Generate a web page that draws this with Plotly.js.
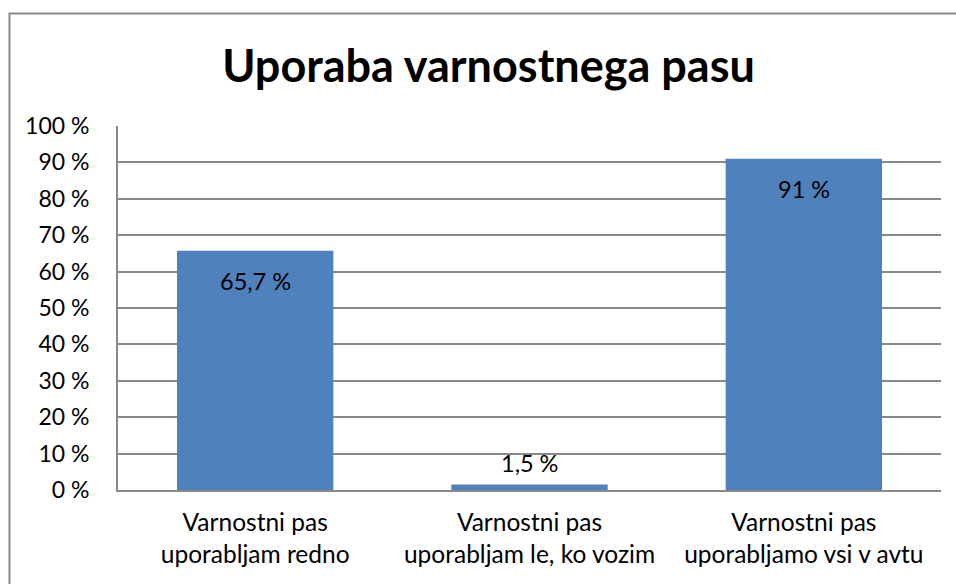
<!DOCTYPE html>
<html>
<head>
<meta charset="utf-8">
<script src="https://cdn.plot.ly/plotly-3.0.1.min.js"></script>
<style>html,body{margin:0;padding:0;background:#fff;}#chart{width:956px;height:584px;}</style>
</head>
<body>
<div id="chart"></div>
<script>
const categories = ["Varnostni pas<br>uporabljam redno", "Varnostni pas<br>uporabljam le, ko vozim", "Varnostni pas<br>uporabljamo vsi v avtu"];
const values = [65.7, 1.5, 91];
const labels = ["65,7 %", "1,5 %", "91 %"];
const labelInside = [true, false, true];
const tickVals = [0, 10, 20, 30, 40, 50, 60, 70, 80, 90, 100];
const tickText = ["0 %", "10 %", "20 %", "30 %", "40 %", "50 %", "60 %", "70 %", "80 %", "90 %", "100 %"];

const FONT = "Lato, 'Liberation Sans', Arial, sans-serif";
const GRID = "#898989";

const trace = {
  type: "bar",
  x: categories,
  y: values,
  marker: {color: "#4F81BD"},
  hoverinfo: "none"
};

const annotations = categories.map((c, i) => ({
  x: c, y: values[i], xref: "x", yref: "y",
  text: labels[i], showarrow: false,
  yanchor: labelInside[i] ? "top" : "bottom",
  yshift: labelInside[i] ? -14 : 6,
  font: {family: FONT, size: 23.5, color: "#000"}
}));

const layout = {
  width: 956, height: 584,
  margin: {l: 118, r: 15, t: 126, b: 94},
  paper_bgcolor: "#fff", plot_bgcolor: "#fff",
  separators: ", ",
  title: {text: "<b>Uporaba varnostnega pasu</b>", font: {family: FONT, size: 45, color: "#000"},
          x: 0.511, xanchor: "center", y: 0.887, yanchor: "middle"},
  bargap: 0.43,
  showlegend: false,
  xaxis: {
    type: "category",
    showline: true, linecolor: GRID, linewidth: 2,
    showgrid: false, ticks: "",
    tickfont: {family: FONT, size: 24.5, color: "#000"},
    ticklabelstandoff: 10
  },
  yaxis: {
    range: [0, 100],
    tickvals: tickVals, ticktext: tickText,
    showline: true, linecolor: GRID, linewidth: 2,
    showgrid: true, gridcolor: GRID, gridwidth: 2,
    zeroline: false, ticks: "",
    tickfont: {family: FONT, size: 23, color: "#000"},
    ticklabelstandoff: 22
  },
  annotations: annotations,
  shapes: [{
    type: "rect", xref: "paper", yref: "paper",
    x0: (9.5 - 118) / 823, x1: (975 - 118) / 823,
    y0: (490 - 600) / 364, y1: (490 - 13.5) / 364,
    line: {color: GRID, width: 2}, fillcolor: "rgba(0,0,0,0)", layer: "below"
  }]
};

Plotly.newPlot("chart", [trace], layout, {displayModeBar: false, staticPlot: true});
</script>
</body>
</html>
